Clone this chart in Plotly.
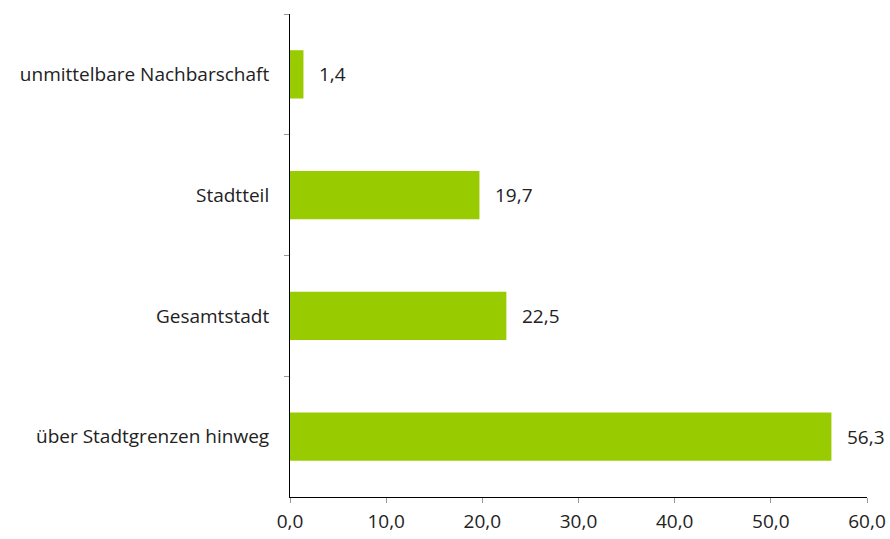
import plotly.graph_objects as go

categories = ["unmittelbare Nachbarschaft", "Stadtteil", "Gesamtstadt", "über Stadtgrenzen hinweg"]
values = [1.4, 19.7, 22.5, 56.3]
x_ticks = [0, 10, 20, 30, 40, 50, 60]

BAR_COLOR = "#99cc00"
TEXT_COLOR = "#222222"
FONT = "Open Sans"
FONT_SIZE = 19

fig = go.Figure(
    go.Bar(
        x=values,
        y=categories,
        orientation="h",
        marker=dict(color=BAR_COLOR, line=dict(width=0)),
        width=0.4,
        hoverinfo="skip",
    )
)

# value labels just right of each bar end
for cat, val in zip(categories, values):
    fig.add_annotation(
        x=val, y=cat, text=f"{val:.1f}".replace(".", ","),
        xanchor="left", yanchor="middle", showarrow=False, xshift=14,
        font=dict(family=FONT, size=FONT_SIZE, color=TEXT_COLOR),
    )

fig.update_layout(
    width=890, height=539,
    margin=dict(l=290, r=23, t=14, b=42),
    paper_bgcolor="white", plot_bgcolor="white",
    separators=",.",
    showlegend=False,
    font=dict(family=FONT, size=FONT_SIZE, color=TEXT_COLOR),
    xaxis=dict(
        range=[0, 60], tickvals=x_ticks, tickformat=".1f",
        showgrid=False, zeroline=False, automargin=False,
        showline=True, linecolor="black", linewidth=1,
        ticks="outside", ticklen=5, tickcolor="#999999", tickwidth=1,
        ticklabelstandoff=2,
        tickfont=dict(family=FONT, size=FONT_SIZE, color=TEXT_COLOR),
    ),
    yaxis=dict(
        autorange="reversed", showgrid=False, zeroline=False, automargin=False,
        showline=True, linecolor="black", linewidth=1,
        ticks="outside", ticklen=5, tickcolor="#999999", tickwidth=1,
        tickson="boundaries", ticklabelstandoff=16,
        tickfont=dict(family=FONT, size=FONT_SIZE, color=TEXT_COLOR),
    ),
)

fig.write_html("out.html")
